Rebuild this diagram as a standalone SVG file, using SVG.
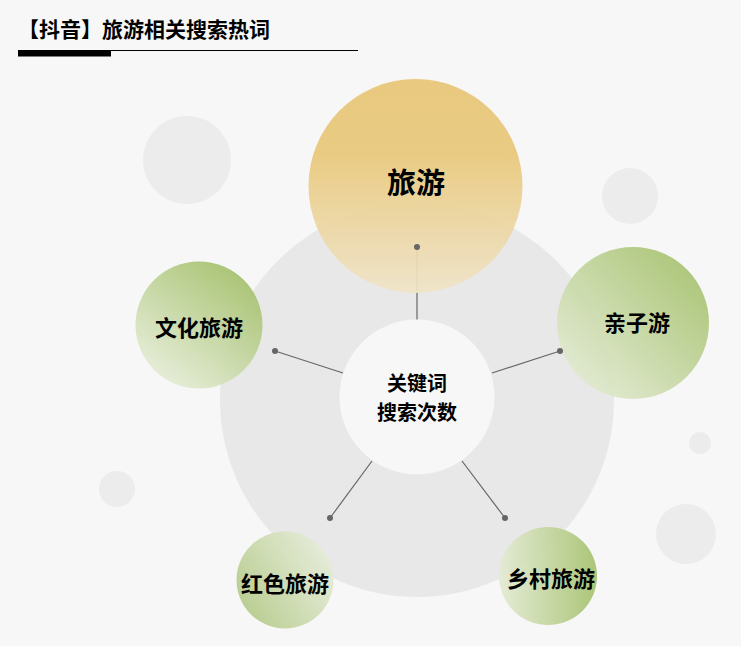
<svg xmlns="http://www.w3.org/2000/svg" width="741" height="646" viewBox="0 0 741 646">
<defs>
<linearGradient id="gTop" x1="0" y1="0" x2="0" y2="1">
<stop offset="0" stop-color="#e8c575"/>
<stop offset="0.35" stop-color="#e8c779"/>
<stop offset="1" stop-color="#f0e4c8"/>
</linearGradient>
<linearGradient id="gLeft" x1="0.8" y1="0.1" x2="0.2" y2="0.9">
<stop offset="0" stop-color="#a5c16d"/>
<stop offset="1" stop-color="#e3ebd3"/>
</linearGradient>
<linearGradient id="gRight" x1="0.9" y1="0.1" x2="0.1" y2="0.9">
<stop offset="0" stop-color="#a5c16d"/>
<stop offset="1" stop-color="#e3ebd3"/>
</linearGradient>
<linearGradient id="gRed" x1="0" y1="0.8" x2="1" y2="0.2">
<stop offset="0" stop-color="#b2c885"/>
<stop offset="1" stop-color="#e8eedc"/>
</linearGradient>
<linearGradient id="gVil" x1="0" y1="0" x2="1" y2="0">
<stop offset="0" stop-color="#e3ebd3"/>
<stop offset="1" stop-color="#a5c16d"/>
</linearGradient>
<style>
.t{font-family:"Noto Sans CJK SC","Noto Sans",sans-serif;font-weight:bold;fill:#000;text-anchor:middle}
.deco{fill:#ececec}
.ln{stroke:#666;stroke-width:1.2;fill:none}
.dot{fill:#666}
</style>
</defs>
<rect width="741" height="646" fill="#f7f7f7"/>
<g id="title">
<text x="18" y="37" font-family="Noto Sans CJK SC,sans-serif" font-weight="bold" font-size="21" fill="#000">【抖音】旅游相关搜索热词</text>
<line x1="18" y1="50.5" x2="358" y2="50.5" stroke="#000" stroke-width="1"/>
<rect x="18" y="51" width="93" height="5.5" fill="#000"/>
</g>
<g id="decorations">
<circle class="deco" cx="187" cy="160" r="44"/>
<circle class="deco" cx="630" cy="196" r="28"/>
<circle class="deco" cx="700" cy="443" r="11"/>
<circle class="deco" cx="117" cy="489" r="18"/>
<circle class="deco" cx="686" cy="534" r="30"/>
<circle cx="417" cy="400" r="197" fill="#e8e8e8"/>
</g>
<g id="connectors">
<line class="ln" x1="417" y1="247" x2="417" y2="320"/>
<line class="ln" x1="275" y1="351" x2="343" y2="373"/>
<line class="ln" x1="560" y1="351" x2="492" y2="373"/>
<line class="ln" x1="330" y1="518" x2="372" y2="461"/>
<line class="ln" x1="505" y1="518" x2="462" y2="461"/>
</g>
<g id="node-top">
<circle cx="415.5" cy="186" r="107" fill="url(#gTop)" opacity="0.92"/>
<text class="t" x="416" y="194" font-size="29">旅游</text>
</g>
<g id="node-culture">
<circle cx="199" cy="325" r="63.5" fill="url(#gLeft)" opacity="0.92"/>
<text class="t" x="199" y="336" font-size="22">文化旅游</text>
</g>
<g id="node-family">
<circle cx="633" cy="323" r="76" fill="url(#gRight)" opacity="0.92"/>
<text class="t" x="637" y="331" font-size="22">亲子游</text>
</g>
<g id="node-red">
<circle cx="285" cy="580" r="48.5" fill="url(#gRed)" opacity="0.92"/>
<text class="t" x="285" y="592" font-size="22">红色旅游</text>
</g>
<g id="node-village">
<circle cx="548" cy="576" r="49" fill="url(#gVil)" opacity="0.92"/>
<text class="t" x="551" y="587" font-size="22">乡村旅游</text>
</g>
<g id="node-center">
<circle cx="417" cy="397" r="77.5" fill="#f7f7f7"/>
<text class="t" x="417" y="391" font-size="20">关键词</text>
<text class="t" x="417" y="420" font-size="20">搜索次数</text>
</g>
<g id="dots">
<circle class="dot" cx="417" cy="247" r="3"/>
<circle class="dot" cx="275" cy="351" r="3"/>
<circle class="dot" cx="560" cy="351" r="3"/>
<circle class="dot" cx="330" cy="518" r="3"/>
<circle class="dot" cx="505" cy="518" r="3"/>
</g>
</svg>
